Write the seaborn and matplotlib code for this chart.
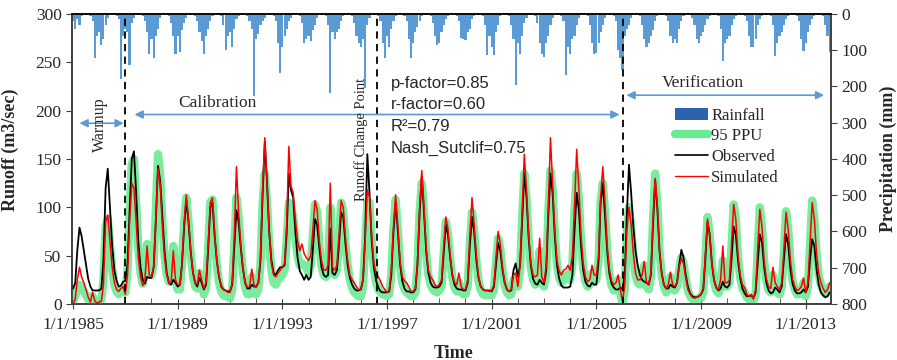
import numpy as np
import pandas as pd
import matplotlib
matplotlib.use("Agg")
import matplotlib.pyplot as plt
import matplotlib.dates as mdates
from matplotlib.lines import Line2D
from matplotlib.patches import Patch
import seaborn as sns

# monthly values, Jan..Dec, one row per year 1985-2013
observed = [
    16, 22, 55, 79, 70, 55, 40, 26, 18, 14, 14, 14,        # 1985
    14, 16, 45, 120, 140, 100, 60, 35, 24, 18, 19, 23,     # 1986
    24, 42, 95, 150, 158, 115, 65, 38, 25, 21, 28, 27,     # 1987
    27, 38, 85, 143, 128, 90, 55, 32, 22, 20, 25, 22,      # 1988
    18, 20, 40, 80, 108, 85, 55, 33, 22, 18, 27, 22,       # 1989
    15, 20, 55, 100, 105, 70, 45, 28, 18, 15, 14, 13,      # 1990
    13, 20, 58, 97, 85, 58, 36, 22, 16, 16, 20, 18,        # 1991
    18, 22, 45, 115, 168, 125, 75, 45, 32, 30, 35, 38,     # 1992
    38, 40, 72, 135, 118, 110, 75, 48, 34, 30, 25, 30,     # 1993
    25, 28, 55, 88, 82, 58, 38, 30, 28, 30, 78, 32,        # 1994
    30, 35, 60, 95, 90, 62, 40, 27, 20, 16, 14, 14,        # 1995
    15, 25, 70, 155, 115, 65, 38, 24, 17, 13, 12, 12,      # 1996
    12, 13, 30, 75, 105, 75, 42, 24, 16, 13, 13, 12,       # 1997
    12, 15, 40, 95, 132, 95, 55, 32, 22, 18, 17, 17,       # 1998
    18, 22, 50, 82, 72, 48, 30, 20, 16, 15, 15, 14,        # 1999
    14, 22, 60, 90, 75, 45, 27, 18, 15, 14, 14, 14,        # 2000
    13, 18, 40, 63, 55, 35, 22, 15, 13, 14, 35, 42,        # 2001
    28, 40, 85, 135, 112, 68, 40, 26, 21, 20, 25, 22,      # 2002
    20, 35, 90, 135, 115, 70, 40, 26, 19, 17, 17, 17,      # 2003
    18, 30, 75, 115, 98, 60, 35, 23, 19, 18, 22, 20,       # 2004
    20, 45, 105, 125, 92, 55, 32, 21, 17, 15, 15, 17,      # 2005
    15, 30, 90, 144, 115, 80, 55, 40, 30, 25, 23, 22,      # 2006
    20, 30, 80, 128, 100, 55, 32, 20, 16, 16, 20, 18,      # 2007
    17, 22, 40, 56, 48, 30, 18, 11, 8, 7, 7, 8,            # 2008
    10, 15, 45, 85, 72, 42, 25, 17, 14, 16, 23, 18,        # 2009
    17, 20, 45, 80, 72, 45, 27, 16, 11, 8, 8, 9,           # 2010
    6, 12, 40, 72, 64, 38, 22, 14, 11, 12, 17, 15,         # 2011
    12, 18, 45, 72, 62, 36, 21, 14, 11, 11, 12, 15,        # 2012
    12, 18, 45, 67, 60, 36, 20, 12, 9, 7, 8, 12,           # 2013
]

simulated = [
    0, 5, 25, 38, 28, 22, 15, 7, 2, 12, 3, 1,
    2, 3, 20, 85, 92, 65, 38, 22, 15, 13, 16, 18,
    10, 30, 85, 125, 120, 85, 48, 28, 19, 25, 60, 30,
    28, 38, 88, 140, 125, 80, 48, 30, 21, 22, 55, 25,
    20, 20, 42, 85, 113, 88, 55, 33, 22, 20, 35, 25,
    16, 22, 60, 105, 110, 72, 45, 28, 19, 15, 14, 12,
    12, 22, 70, 142, 95, 60, 36, 22, 17, 18, 36, 20,
    17, 22, 48, 120, 172, 125, 75, 42, 30, 28, 32, 35,
    38, 42, 80, 163, 122, 115, 88, 65, 55, 62, 52, 48,
    45, 50, 75, 107, 98, 65, 45, 35, 35, 40, 125, 38,
    35, 40, 70, 107, 100, 68, 45, 30, 25, 22, 18, 15,
    15, 25, 65, 118, 110, 70, 42, 32, 28, 24, 18, 15,
    12, 14, 35, 80, 113, 80, 45, 28, 24, 22, 18, 13,
    13, 16, 42, 100, 138, 100, 58, 35, 28, 25, 20, 18,
    20, 25, 58, 90, 78, 50, 30, 22, 20, 32, 18, 15,
    15, 25, 70, 110, 82, 50, 28, 18, 15, 14, 14, 13,
    14, 20, 48, 75, 62, 38, 22, 15, 13, 15, 30, 32,
    18, 40, 95, 155, 118, 70, 42, 30, 28, 30, 68, 28,
    22, 40, 100, 172, 125, 75, 45, 34, 30, 35, 36, 40,
    35, 50, 100, 160, 120, 70, 42, 28, 23, 25, 40, 30,
    30, 50, 110, 142, 105, 60, 36, 24, 20, 22, 30, 15,
    2, 20, 75, 100, 82, 52, 32, 25, 25, 30, 44, 22,
    20, 32, 85, 130, 102, 55, 32, 20, 16, 20, 33, 20,
    18, 22, 38, 47, 42, 27, 15, 10, 7, 6, 7, 8,
    10, 16, 50, 88, 72, 42, 25, 17, 15, 25, 60, 22,
    22, 25, 60, 103, 88, 50, 30, 20, 17, 10, 8, 10,
    5, 15, 55, 98, 80, 45, 26, 18, 16, 38, 22, 18,
    15, 22, 55, 95, 78, 45, 26, 18, 14, 15, 18, 27,
    12, 22, 62, 105, 88, 52, 32, 22, 16, 12, 15, 22,
]

ppu95 = [
    3, 8, 15, 20, 17, 13, 9, 5, 2, 8, 2, 2,
    2, 5, 25, 80, 88, 62, 36, 20, 13, 10, 14, 16,
    12, 35, 95, 145, 150, 105, 58, 32, 21, 30, 62, 35,
    30, 42, 98, 155, 135, 85, 50, 30, 23, 28, 60, 25,
    15, 15, 40, 85, 110, 85, 52, 30, 18, 16, 32, 22,
    10, 16, 55, 105, 108, 68, 40, 22, 13, 9, 8, 8,
    6, 14, 60, 110, 90, 58, 32, 17, 10, 10, 28, 14,
    10, 15, 40, 105, 135, 105, 62, 35, 22, 20, 25, 28,
    30, 35, 65, 105, 100, 90, 68, 50, 40, 42, 40, 38,
    32, 40, 70, 103, 95, 62, 40, 30, 28, 32, 100, 35,
    30, 35, 65, 105, 95, 62, 40, 25, 17, 12, 10, 8,
    8, 18, 60, 105, 105, 65, 36, 22, 15, 12, 10, 10,
    8, 10, 30, 78, 108, 75, 40, 22, 15, 12, 10, 8,
    8, 12, 38, 95, 125, 95, 52, 30, 20, 15, 13, 12,
    14, 18, 50, 85, 72, 46, 27, 17, 13, 22, 12, 10,
    10, 18, 62, 95, 76, 45, 24, 14, 10, 9, 9, 9,
    9, 14, 42, 68, 57, 34, 19, 12, 9, 10, 25, 28,
    18, 35, 88, 135, 110, 66, 38, 25, 20, 22, 55, 24,
    18, 32, 92, 138, 118, 72, 40, 27, 22, 25, 30, 28,
    25, 40, 95, 135, 110, 65, 37, 23, 18, 20, 32, 24,
    25, 45, 105, 125, 96, 55, 31, 19, 14, 16, 25, 12,
    0, 15, 70, 100, 80, 50, 30, 22, 20, 28, 40, 18,
    15, 28, 85, 135, 105, 55, 30, 18, 12, 15, 28, 16,
    14, 18, 35, 48, 42, 27, 14, 8, 5, 4, 5, 6,
    6, 12, 45, 90, 73, 40, 23, 14, 11, 18, 45, 18,
    18, 22, 58, 103, 88, 48, 27, 16, 12, 7, 5, 5,
    3, 10, 52, 100, 80, 44, 24, 14, 12, 30, 16, 12,
    10, 18, 52, 96, 78, 44, 24, 15, 10, 10, 14, 22,
    8, 18, 60, 107, 88, 52, 30, 20, 14, 10, 12, 18,
]

rainfall = [
    20, 40, 15, 30, 5, 0, 0, 0, 5, 20, 122, 60,
    50, 85, 70, 30, 10, 0, 0, 0, 5, 15, 180, 60,
    40, 50, 140, 25, 10, 0, 0, 0, 5, 20, 50, 110,
    70, 120, 60, 40, 10, 0, 0, 0, 5, 25, 60, 110,
    60, 105, 45, 25, 10, 0, 0, 0, 5, 20, 50, 75,
    110, 60, 40, 20, 5, 0, 0, 0, 5, 30, 100, 60,
    50, 90, 40, 15, 5, 0, 0, 0, 5, 20, 40, 225,
    70, 55, 30, 20, 10, 0, 0, 0, 5, 20, 80, 164,
    90, 60, 40, 20, 10, 0, 0, 0, 5, 25, 81, 70,
    60, 75, 45, 30, 10, 0, 0, 0, 5, 30, 217, 50,
    70, 50, 40, 20, 5, 0, 0, 0, 5, 25, 60, 80,
    90, 70, 205, 30, 10, 0, 0, 0, 5, 20, 80, 120,
    60, 90, 40, 20, 5, 0, 0, 0, 5, 20, 70, 120,
    80, 50, 35, 20, 5, 0, 0, 0, 5, 25, 60, 85,
    81, 50, 30, 15, 5, 0, 0, 0, 5, 20, 65, 70,
    72, 50, 40, 15, 5, 0, 0, 0, 5, 30, 113, 60,
    90, 113, 50, 30, 5, 0, 0, 0, 5, 30, 70, 196,
    80, 110, 60, 25, 10, 0, 0, 0, 5, 25, 80, 110,
    118, 80, 60, 30, 10, 0, 0, 0, 5, 20, 168, 90,
    110, 70, 60, 30, 10, 0, 0, 0, 5, 30, 80, 110,
    108, 80, 50, 30, 10, 0, 0, 0, 5, 20, 100, 120,
    155, 60, 40, 30, 10, 0, 0, 0, 5, 30, 70, 90,
    80, 60, 45, 20, 5, 0, 0, 0, 5, 20, 60, 81,
    70, 81, 40, 20, 5, 0, 0, 0, 10, 30, 70, 81,
    60, 50, 30, 15, 5, 0, 0, 0, 5, 40, 131, 80,
    70, 60, 30, 15, 5, 0, 0, 0, 5, 20, 60, 90,
    90, 70, 30, 15, 5, 0, 0, 0, 5, 30, 115, 80,
    60, 50, 30, 15, 5, 0, 0, 0, 5, 20, 70, 103,
    80, 50, 30, 15, 5, 0, 0, 0, 5, 30, 60, 104,
]

tick_years = [1985, 1989, 1993, 1997, 2001, 2005, 2009, 2013]
period_breaks = ["1987-01-01", "1996-08-15", "2006-01-01"]
stats_lines = ["p-factor=0.85", "r-factor=0.60", "R²=0.79", "Nash_Sutclif=0.75"]

df = pd.DataFrame({
    "date": pd.date_range("1985-01-01", periods=len(observed), freq="MS"),
    "observed": observed,
    "simulated": simulated,
    "ppu": ppu95,
    "rain": rainfall,
})

sns.set_style("ticks")
plt.rcParams["font.family"] = ["Liberation Serif", "DejaVu Serif"]

fig = plt.figure(figsize=(8.97, 3.6), dpi=100)
ax = fig.add_axes([0.0803, 0.1556, 0.8463, 0.8055])
ax2 = ax.twinx()

# rainfall hanging from the top
ax2.bar(df["date"], df["rain"], width=30, color="#5B9BD5", linewidth=0)
ax2.set_ylim(800, 0)
ax2.set_yticks(range(0, 801, 100))

ax.set_zorder(ax2.get_zorder() + 1)
ax.patch.set_visible(False)

sns.lineplot(data=df, x="date", y="ppu", ax=ax, color="#6BEA93", linewidth=6, alpha=0.9)
sns.lineplot(data=df, x="date", y="observed", ax=ax, color="black", linewidth=1.3)
sns.lineplot(data=df, x="date", y="simulated", ax=ax, color="#FF0000", linewidth=1.1)

for d in period_breaks:
    ax.axvline(pd.Timestamp(d), color="black", linestyle=(0, (4, 3)), linewidth=1.3)

ax.set_xlim(pd.Timestamp("1984-12-18"), pd.Timestamp("2013-12-22"))
ax.set_ylim(0, 300)
ax.set_yticks(range(0, 301, 50))

ax.set_xticks([pd.Timestamp(year=y, month=1, day=1) for y in tick_years])
ax.set_xticklabels(["1/1/%d" % y for y in tick_years])
ax.xaxis.set_minor_locator(mdates.YearLocator(1, month=1, day=1))

for a in (ax, ax2):
    for s in a.spines.values():
        s.set_color("#404040")
        s.set_linewidth(1.2)
ax.spines["top"].set_color("black")
ax.tick_params(axis="both", which="major", labelsize=12.5, direction="out", length=4, color="#404040")
ax.tick_params(axis="x", which="major", direction="inout", length=7, pad=6)
ax.tick_params(axis="x", which="minor", direction="in", length=4, color="#404040")
ax2.tick_params(axis="y", labelsize=12.5, direction="out", length=4, color="#404040")

ax.set_xlabel("Time", fontsize=13, fontweight="bold")
ax.set_ylabel("Runoff (m3/sec)", fontsize=13, fontweight="bold")
ax2.set_ylabel("Precipitation (mm)", fontsize=13, fontweight="bold")
ax.xaxis.set_label_coords(0.502, -0.14)
ax.yaxis.set_label_coords(-0.07, 0.53)
ax2.yaxis.set_label_coords(1.064, 0.5)

# period arrows and labels
arrow_kw = dict(arrowstyle="<|-|>", color="#5B9BD5", lw=1.2, mutation_scale=12, shrinkA=0, shrinkB=0)
ax.annotate("", xy=(pd.Timestamp("1985-04-01"), 187), xytext=(pd.Timestamp("1986-12-10"), 187), arrowprops=arrow_kw)
ax.annotate("", xy=(pd.Timestamp("1987-05-10"), 196), xytext=(pd.Timestamp("2005-11-20"), 196), arrowprops=arrow_kw)
ax.annotate("", xy=(pd.Timestamp("2006-02-25"), 216), xytext=(pd.Timestamp("2013-09-15"), 216), arrowprops=arrow_kw)

ax.text(pd.Timestamp("1986-01-15"), 185, "Warmup", rotation=90, fontsize=11.5, ha="center", va="center")
ax.text(pd.Timestamp("1990-07-15"), 208, "Calibration", fontsize=12.5, ha="center", va="center")
ax.text(pd.Timestamp("1996-01-10"), 170, "Runoff Change Point", rotation=90, fontsize=10.5, ha="center", va="center")
ax.text(pd.Timestamp("2009-01-20"), 229, "Verification", fontsize=12.5, ha="center", va="center")

for i, s in enumerate(stats_lines):
    ax.text(pd.Timestamp("1997-02-18"), 228.5 - i * 22.6, s, fontsize=12, ha="left", va="center",
            family=["Liberation Sans", "DejaVu Sans"])

handles = [
    Patch(facecolor="#2F62AE", edgecolor="none"),
    Line2D([], [], color="#6BEA93", linewidth=6),
    Line2D([], [], color="black", linewidth=1.2),
    Line2D([], [], color="#FF0000", linewidth=1.0),
]
ax.legend(handles, ["Rainfall", "95 PPU", "Observed", "Simulated"], loc="upper left",
          bbox_to_anchor=(0.785, 0.70), frameon=False, fontsize=12, handlelength=2.0,
          handletextpad=0.2, labelspacing=0.28, borderaxespad=0)

fig.savefig("out.png", dpi=100)
